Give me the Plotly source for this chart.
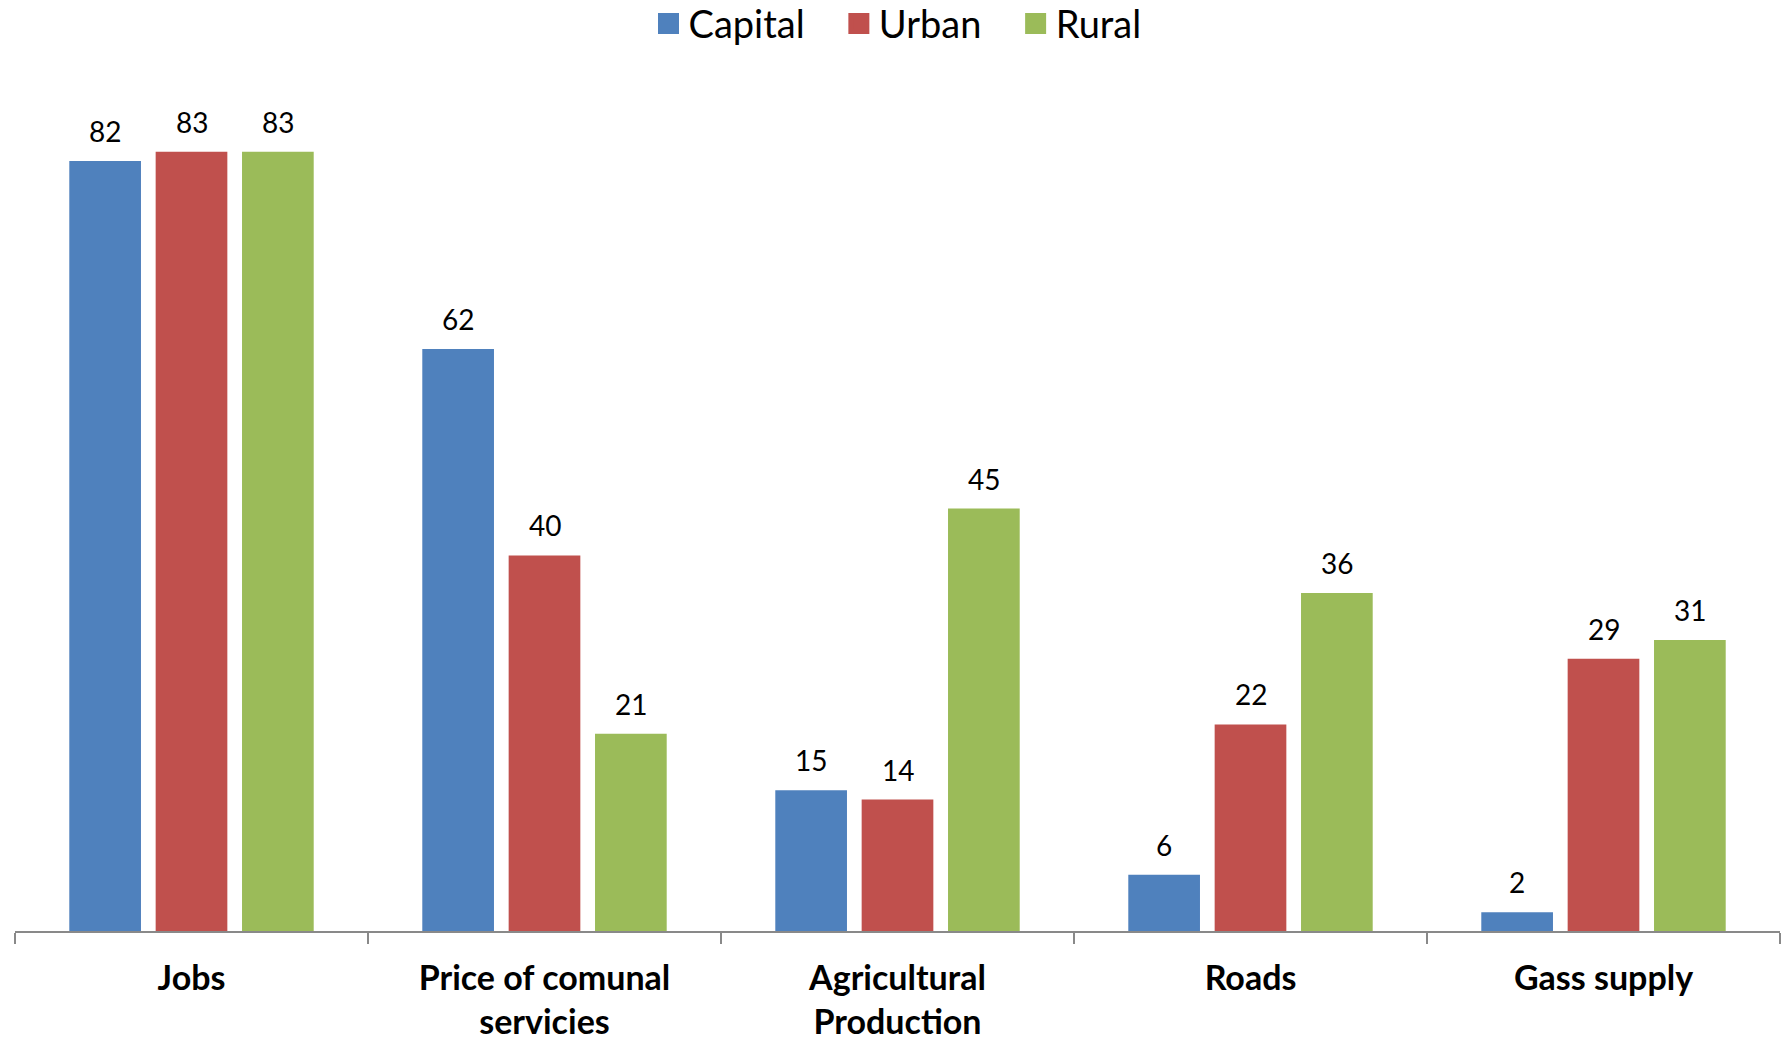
import plotly.graph_objects as go

categories = ["Jobs", "Price of comunal<br>servicies", "Agricultural<br>Production", "Roads", "Gass supply"]
series_names = ["Capital", "Urban", "Rural"]
capital = [82, 62, 15, 6, 2]
urban = [83, 40, 14, 22, 29]
rural = [83, 21, 45, 36, 31]
colors = ["#4F81BD", "#C0504D", "#9BBB59"]

W, H = 1781, 1041
ML, MR, MT, MB = 15, 1, 86, 110
bargap = 0.266
font_family = "Lato, 'Open Sans', sans-serif"

fig = go.Figure()
all_series = [capital, urban, rural]
for name, vals, col in zip(series_names, all_series, colors):
    fig.add_trace(go.Bar(name=name, x=categories, y=vals, marker_color=col,
                         marker_line_width=0, showlegend=False))
# legend entries with larger square swatches
for k, (name, col) in enumerate(zip(series_names, colors)):
    pad = "\u00a0\u00a0\u00a0" if k < len(series_names) - 1 else ""
    fig.add_trace(go.Scatter(name=name + pad, x=[None], y=[None], mode="markers",
                             marker=dict(symbol="square", size=16, color=col,
                                         line=dict(color=col, width=5)),
                             showlegend=True))

plot_w = W - ML - MR
pitch = plot_w / len(categories) * (1 - bargap) / len(series_names)
annotations = []
for i, vals in enumerate(all_series):
    for c, v in zip(categories, vals):
        annotations.append(dict(x=c, y=v, xref="x", yref="y", text=str(v),
                                showarrow=False, xshift=(i - 1) * pitch, yshift=30,
                                yanchor="middle", font=dict(size=28, color="black", family=font_family)))

fig.update_layout(
    width=W, height=H,
    margin=dict(l=ML, r=MR, t=MT, b=MB, autoexpand=False),
    barmode="group", bargap=bargap, bargroupgap=0.17,
    plot_bgcolor="white", paper_bgcolor="white",
    font=dict(family=font_family, color="black"),
    legend=dict(orientation="h", x=0.5, xanchor="center", y=1.0735, yref="paper", yanchor="middle",
                font=dict(size=38), itemsizing="trace", traceorder="normal"),
    annotations=annotations,
    xaxis=dict(showline=True, linecolor="#898989", linewidth=1.5, ticks="outside", tickson="boundaries",
               ticklen=11, tickcolor="#898989", tickwidth=1.5, automargin=False,
               tickfont=dict(size=34, family=font_family, weight="bold"), ticklabelstandoff=16,
               showgrid=False),
    yaxis=dict(range=[0, 90], visible=False, showgrid=False, automargin=False),
)

fig.write_html("out.html", config={"displayModeBar": False},
               post_script="document.body.style.margin='0';document.body.style.overflow='hidden';")
